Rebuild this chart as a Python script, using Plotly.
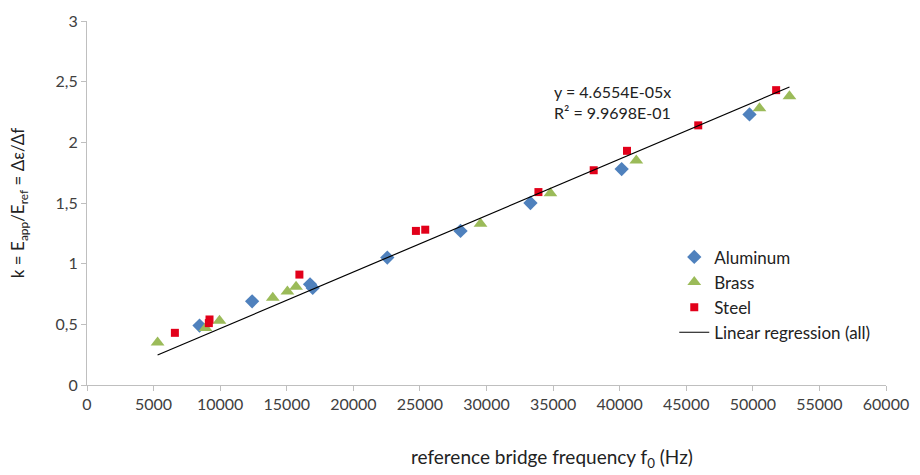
import plotly.graph_objects as go

# Measured calibration factor k versus reference bridge frequency f0
alu_f = [8450, 12400, 16750, 16950, 22550, 28050, 33300, 40150, 49750]
alu_k = [0.49, 0.69, 0.83, 0.80, 1.05, 1.27, 1.50, 1.78, 2.23]

brass_f = [5300, 8900, 9950, 13950, 15050, 15700, 29550, 34800, 41250, 50500, 52750]
brass_k = [0.35, 0.47, 0.53, 0.72, 0.77, 0.81, 1.33, 1.58, 1.85, 2.28, 2.38]

steel_f = [6600, 9150, 9200, 15950, 24700, 25400, 33900, 38050, 40550, 45900, 51750]
steel_k = [0.43, 0.51, 0.54, 0.91, 1.27, 1.28, 1.59, 1.77, 1.93, 2.14, 2.43]

# Least-squares slope through the origin for all materials
slope = 4.6554e-05
r_squared = 9.9698e-01

all_f = alu_f + brass_f + steel_f
fit_f = [min(all_f), max(all_f)]
fit_k = [slope * f for f in fit_f]

FONT = "Lato, 'Open Sans', sans-serif"
TXT = "#404040"
DARK = "#222222"

fig = go.Figure()
fig.add_trace(go.Scatter(
    x=alu_f, y=alu_k, mode="markers", name="Aluminum",
    marker=dict(symbol="diamond", size=11, color="#4F81BD"),
))
fig.add_trace(go.Scatter(
    x=brass_f, y=brass_k, mode="markers", name="Brass",
    marker=dict(symbol="triangle-up", size=12, color="#9BBB59"),
))
fig.add_trace(go.Scatter(
    x=steel_f, y=steel_k, mode="markers", name="Steel",
    marker=dict(symbol="square", size=8, color="#E2001A"),
))
fig.add_trace(go.Scatter(
    x=fit_f, y=fit_k, mode="lines", name="Linear regression (all)",
    line=dict(color="#000000", width=1.2),
))

# Regression equation and coefficient of determination
fig.add_annotation(
    x=(553 - 87) / 800, y=(385 - 94) / 374, xref="paper", yref="paper",
    showarrow=False,
    text=f"y = {slope:.4E}x<br>R² = {r_squared:.4E}",
    xanchor="left", yanchor="middle", align="left",
    font=dict(family=FONT, size=16, color=DARK),
)

fig.update_layout(
    width=920, height=475,
    margin=dict(l=87, r=33, t=11, b=90),
    paper_bgcolor="white", plot_bgcolor="white",
    separators=",.",
    font=dict(family=FONT, size=15, color=TXT),
    showlegend=True,
    legend=dict(
        x=0.735, y=0.40, xanchor="left", yanchor="top",
        font=dict(family=FONT, size=17, color=DARK),
        bgcolor="rgba(0,0,0,0)", tracegroupgap=0, itemwidth=30,
    ),
    xaxis=dict(
        range=[0, 60000], dtick=5000, tickformat="d",
        showgrid=False, zeroline=False,
        showline=True, linecolor="#BFBFBF", linewidth=1,
        ticks="outside", ticklen=5, tickcolor="#BFBFBF",
        tickfont=dict(family=FONT, size=16, color=TXT),
    ),
    yaxis=dict(
        range=[0, 3], dtick=0.5,
        showgrid=False, zeroline=False,
        showline=True, linecolor="#BFBFBF", linewidth=1,
        ticks="outside", ticklen=5, tickcolor="#BFBFBF",
        tickfont=dict(family=FONT, size=16, color=TXT),
        title=dict(
            text="k = E<sub>app</sub>/E<sub>ref</sub> = Δε/Δf",
            font=dict(family=FONT, size=17, color=DARK),
            standoff=26,
        ),
    ),
)

# x-axis title, placed right of centre
fig.add_annotation(
    x=(553 - 87) / 800, y=-0.2, xref="paper", yref="paper", showarrow=False,
    text="reference bridge frequency f<sub>0</sub> (Hz)",
    xanchor="center", yanchor="middle",
    font=dict(family=FONT, size=19, color=DARK),
)

fig.write_html("out.html")
